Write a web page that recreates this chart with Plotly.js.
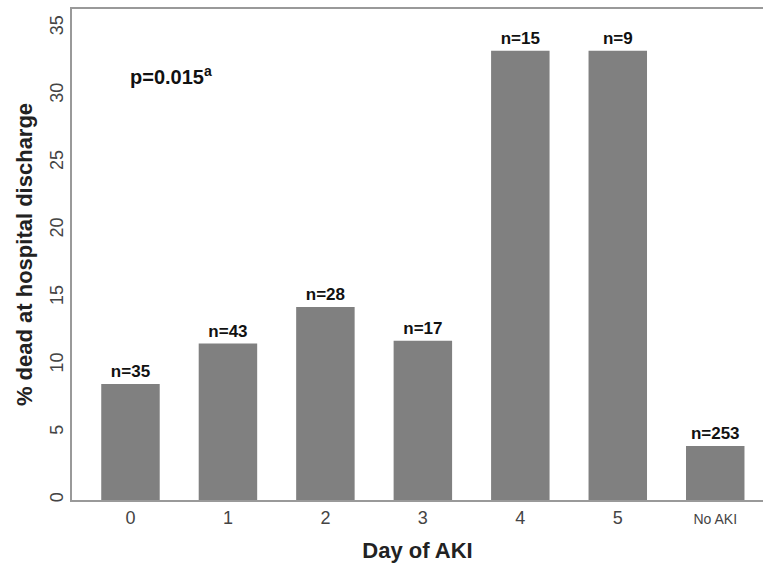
<!DOCTYPE html>
<html>
<head>
<meta charset="utf-8">
<script src="https://cdn.plot.ly/plotly-3.0.1.min.js"></script>
<style>html,body{margin:0;padding:0;background:#fff;}#chart{width:763px;height:578px;}</style>
</head>
<body>
<div id="chart"></div>
<script>
const categories = ["0", "1", "2", "3", "4", "5", "No AKI"];
const tickLabels = ["0", "1", "2", "3", "4", "5", "<span style='font-size:14px'>No AKI</span>"];
const pctDead = [8.6, 11.6, 14.3, 11.8, 33.3, 33.3, 4.0];
const nLabels = ["35", "43", "28", "17", "15", "9", "253"];

const font = "Liberation Sans, Arial, sans-serif";

const trace = {
  type: "bar",
  x: categories,
  y: pctDead,
  text: nLabels,
  texttemplate: "<b>n=%{text}</b>",
  textposition: "outside",
  cliponaxis: false,
  textfont: {family: font, size: 17, color: "#111"},
  marker: {color: "#808080", line: {width: 0}},
  width: 0.6,
  hoverinfo: "skip"
};

const layout = {
  width: 763,
  height: 578,
  margin: {l: 72, r: 0, t: 9, b: 78},
  paper_bgcolor: "#fff",
  plot_bgcolor: "#fff",
  showlegend: false,
  font: {family: font, color: "#333"},
  xaxis: {
    type: "category",
    range: [-0.6, 6.49],
    tickvals: categories,
    ticktext: tickLabels,
    showline: true,
    mirror: true,
    linecolor: "#999",
    linewidth: 2,
    ticks: "",
    showgrid: false,
    zeroline: false,
    tickfont: {family: font, size: 18, color: "#444"},
    title: {text: "<b>Day of AKI</b>", font: {family: font, size: 22, color: "#222"}, standoff: 16}
  },
  yaxis: {
    range: [0, 36.4],
    tickvals: [0, 5, 10, 15, 20, 25, 30, 35],
    tickangle: -90,
    showline: true,
    linecolor: "#999",
    linewidth: 2,
    ticks: "",
    showgrid: false,
    zeroline: false,
    tickfont: {family: font, size: 18, color: "#444"},
    title: {text: "<b>% dead at hospital discharge</b>", font: {family: font, size: 22, color: "#222"}, standoff: 8}
  },
  annotations: [{
    text: "<b>p=0.015<sup>a</sup></b>",
    xref: "x", yref: "paper",
    x: 0, y: 0.865,
    xanchor: "left", yanchor: "middle",
    xshift: -2,
    showarrow: false,
    font: {family: font, size: 20, color: "#111"}
  }]
};

Plotly.newPlot("chart", [trace], layout, {displayModeBar: false, staticPlot: true});
</script>
</body>
</html>
